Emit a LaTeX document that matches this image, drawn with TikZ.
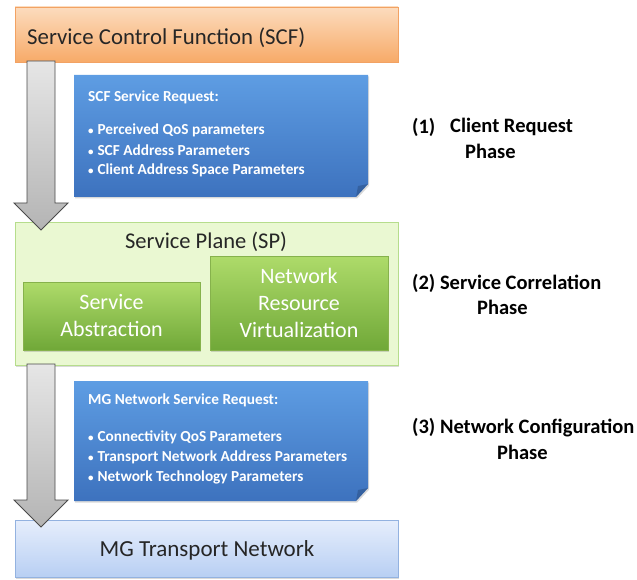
\documentclass[tikz,border=0pt]{standalone}
\usepackage{fontspec}
\setmainfont{Carlito}
\usetikzlibrary{shadows,calc}

\definecolor{orTop}{HTML}{FCDCBE}
\definecolor{orBot}{HTML}{F7AA68}
\definecolor{orLine}{HTML}{F2A263}
\definecolor{bluTop}{HTML}{5E9DE3}
\definecolor{bluBot}{HTML}{3D72BE}
\definecolor{spFill}{HTML}{EAF8D2}
\definecolor{spLine}{HTML}{B6DD8C}
\definecolor{grTop}{HTML}{AEDB6A}
\definecolor{grBot}{HTML}{70A838}
\definecolor{grLine}{HTML}{86B24C}
\definecolor{mgTop}{HTML}{E6EEFC}
\definecolor{mgBot}{HTML}{B8CFF3}
\definecolor{mgLine}{HTML}{93B2E0}
\definecolor{arTop}{HTML}{E6E6E6}
\definecolor{arBot}{HTML}{B4B4B4}
\definecolor{arLine}{HTML}{4A4A4A}
\definecolor{txt}{HTML}{262626}

% small bullet used in the request lists
\newcommand{\reqbullet}{{\fontsize{11}{11}\selectfont•}\hspace{0.25em}}

\tikzset{
  softshadow/.style={drop shadow={shadow xshift=1.2pt,shadow yshift=-1.5pt,opacity=0.25,fill=black!60}},
  layerbox/.style={draw, line width=0.8pt, inner sep=0pt, softshadow},
  scfbox/.style={layerbox, draw=orLine, top color=orTop, bottom color=orBot},
  spbox/.style={layerbox, draw=spLine, fill=spFill},
  subbox/.style={layerbox, draw=grLine, top color=grTop, bottom color=grBot,
                 text=white, align=center, font=\fontsize{22}{27}\selectfont},
  mgbox/.style={layerbox, draw=mgLine, top color=mgTop, bottom color=mgBot},
  reqbox/.style={top color=bluTop, bottom color=bluBot, softshadow},
  reqtext/.style={anchor=west, text=white, inner sep=0pt,
                  font=\bfseries\fontsize{15.3}{17}\selectfont},
  flowarrow/.style={draw=arLine, line width=0.9pt, top color=arTop, bottom color=arBot, line join=miter},
  phase/.style={anchor=west, inner sep=0pt, text=black,
                font=\bfseries\fontsize{20.5}{24}\selectfont},
  boxtitle/.style={text=txt, inner sep=0pt}
}

\begin{document}
\begin{tikzpicture}[x=1pt,y=-1pt]
\useasboundingbox (0,0) rectangle (637,580);

% ---- layer boxes ----
\node[scfbox, minimum width=383pt, minimum height=55pt] (scf) at (206.5,34.5) {};
\node[boxtitle, anchor=west, font=\fontsize{22.8}{26}\selectfont] (scft) at (27,38) {Service Control Function (SCF)};

\node[spbox, minimum width=383pt, minimum height=143pt] (sp) at (206.5,293.5) {};
\node[boxtitle, font=\fontsize{22.5}{26}\selectfont] (spt) at (206,242) {Service Plane (SP)};
\node[subbox, minimum width=177pt, minimum height=68pt] (sa) at (111.5,316) {Service\\Abstraction};
\node[subbox, minimum width=178pt, minimum height=94pt] (nrv) at (299,303) {Network\\Resource\\Virtualization};

\node[mgbox, minimum width=383pt, minimum height=57pt] (mg) at (206.5,548.5) {};
\node[boxtitle, font=\fontsize{23}{26}\selectfont] (mgt) at (207,550) {MG Transport Network};

% ---- request boxes with folded corner ----
\path[reqbox] (74,75) -- (368,75) -- (368,184) -- (356,197) -- (74,197) -- cycle;
\fill[bluBot!70!black, opacity=0.55] (368,184) -- (356,197) -- (358,186) -- cycle;
\node[reqtext] (r1t) at (88,97)  {SCF Service Request:};
\node[reqtext] (r1a) at (88,130) {\reqbullet Perceived QoS parameters};
\node[reqtext] (r1b) at (88,150) {\reqbullet SCF Address Parameters};
\node[reqtext] (r1c) at (88,170) {\reqbullet Client Address Space Parameters};

\path[reqbox] (74,381) -- (368,381) -- (368,488) -- (356,501) -- (74,501) -- cycle;
\fill[bluBot!70!black, opacity=0.55] (368,488) -- (356,501) -- (358,490) -- cycle;
\node[reqtext] (r2t) at (88,400) {MG Network Service Request:};
\node[reqtext] (r2a) at (88,437) {\reqbullet Connectivity QoS Parameters};
\node[reqtext] (r2b) at (88,457) {\reqbullet Transport Network Address Parameters};
\node[reqtext] (r2c) at (88,477) {\reqbullet Network Technology Parameters};

% ---- flow arrows ----
\path[flowarrow] (27,61) -- (55,61) -- (55,203) -- (68,203) -- (41,230)
   -- (14,203) -- (27,203) -- cycle;
\path[flowarrow] (27,364) -- (55,364) -- (55,500) -- (68,500) -- (41,527)
   -- (14,500) -- (27,500) -- cycle;

% ---- phase labels ----
\node[phase] (ph1n) at (412,127) {(1)};
\node[phase] (ph1a) at (450,127) {Client Request};
\node[phase] (ph1b) at (465,151) {Phase};
\node[phase] (ph2a) at (412,283) {(2) Service Correlation};
\node[phase] (ph2b) at (477,307) {Phase};
\node[phase] (ph3a) at (412,428) {(3) Network Configuration};
\node[phase] (ph3b) at (497,452) {Phase};
\end{tikzpicture}
\end{document}
